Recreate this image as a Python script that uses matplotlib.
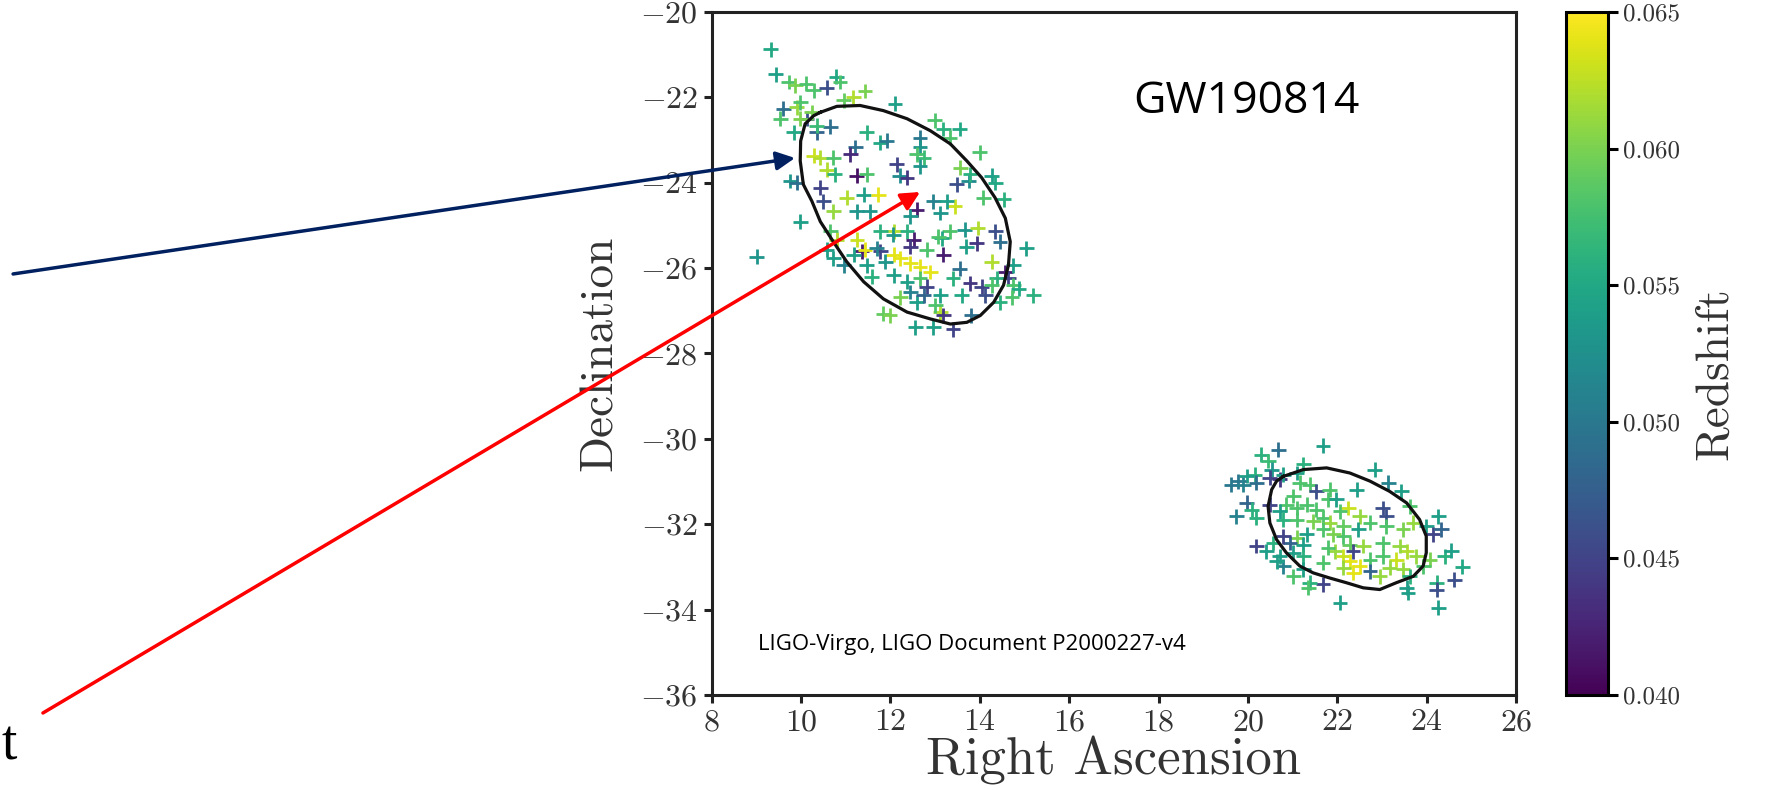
import matplotlib
matplotlib.use("Agg")
import matplotlib.pyplot as plt
from matplotlib.patches import FancyArrowPatch
from matplotlib.ticker import FormatStrFormatter
import numpy as np

plt.rcParams['font.family'] = 'serif'
plt.rcParams['font.serif'] = ['cmr10']
plt.rcParams['mathtext.fontset'] = 'cm'
plt.rcParams['axes.formatter.use_mathtext'] = True

# candidate host galaxies, northern lobe
ra_north = [9.32, 9.43, 9.72, 9.87, 10.11, 10.28, 10.57, 10.79, 10.87, 11.43,
            11.17, 10.95, 9.60, 9.90, 9.98, 9.53, 9.83, 10.13, 10.35, 10.65,
            10.35, 12.10, 11.47, 11.77, 11.92, 11.21, 11.10, 10.28, 10.43, 10.72,
            12.66, 12.66, 12.59, 12.74, 12.66, 12.99, 13.18, 13.55, 13.33, 12.14,
            12.21, 12.37, 10.57, 10.75, 11.24, 11.47, 9.75, 9.90, 10.43, 10.50,
            10.72, 11.02, 11.40, 11.73, 11.24, 11.54, 9.98, 9.01, 12.59, 13.11,
            13.44, 13.48, 13.75, 13.78, 14.00, 14.27, 14.34, 14.08, 14.53, 13.56,
            12.44, 12.07, 12.37, 12.52, 12.44, 13.33, 13.66, 13.95, 13.93, 13.70,
            13.15, 13.07, 14.34, 14.45, 15.04, 14.27, 13.18, 12.81, 11.25, 11.36,
            11.18, 11.43, 10.80, 10.65, 10.57, 10.72, 10.95, 11.77, 12.07, 12.22,
            12.44, 12.66, 12.89, 11.47, 11.58, 11.88, 12.37, 12.07, 12.66, 12.81,
            12.44, 12.22, 11.84, 11.99, 12.55, 12.96, 13.11, 13.18, 13.00, 13.40,
            13.81, 13.59, 13.78, 14.04, 14.12, 14.57, 14.64, 14.75, 14.87, 15.20,
            14.72, 14.38, 14.27, 14.75, 14.45, 13.55, 13.11, 13.40, 12.59, 12.74,
            11.69, 12.06, 11.77, 12.96, 13.26, 9.98, 10.24]
dec_north = [-20.87, -21.46, -21.64, -21.72, -21.68, -21.83, -21.77, -21.52, -21.64, -21.85,
             -21.99, -22.07, -22.27, -22.23, -22.11, -22.50, -22.82, -22.50, -22.82, -22.69,
             -22.66, -22.15, -22.82, -23.06, -23.02, -23.17, -23.33, -23.37, -23.41, -23.41,
             -22.94, -23.17, -23.33, -23.41, -23.61, -22.54, -22.74, -22.74, -22.94, -23.57,
             -23.84, -23.88, -23.69, -23.80, -23.84, -23.80, -23.96, -24.00, -24.12, -24.43,
             -24.67, -24.35, -24.28, -24.28, -24.67, -24.67, -24.91, -25.73, -24.63, -24.71,
             -24.55, -24.04, -23.96, -23.80, -23.29, -23.84, -24.00, -24.35, -24.39, -23.65,
             -24.79, -25.14, -25.14, -25.34, -25.50, -25.14, -25.10, -25.06, -25.42, -25.50,
             -25.30, -25.26, -25.14, -25.38, -25.54, -25.85, -25.69, -25.57, -25.34, -25.61,
             -25.69, -25.57, -25.34, -25.14, -25.57, -25.77, -25.93, -25.61, -25.69, -25.77,
             -25.89, -25.97, -26.09, -25.93, -26.20, -25.85, -26.32, -26.17, -26.24, -26.44,
             -26.56, -26.68, -27.07, -27.11, -27.39, -27.39, -27.03, -27.11, -26.87, -27.43,
             -27.11, -26.64, -26.36, -26.44, -26.64, -26.09, -26.24, -26.40, -26.48, -26.64,
             -26.68, -26.24, -26.40, -25.93, -26.80, -26.01, -26.64, -26.24, -26.80, -26.64,
             -25.54, -25.22, -25.14, -24.43, -24.43, -22.50, -22.35]
z_north = [0.055, 0.054, 0.058, 0.060, 0.058, 0.058, 0.046, 0.055, 0.058, 0.060,
           0.062, 0.059, 0.049, 0.061, 0.058, 0.058, 0.055, 0.046, 0.048, 0.049,
           0.057, 0.054, 0.056, 0.055, 0.050, 0.049, 0.043, 0.063, 0.062, 0.058,
           0.050, 0.053, 0.058, 0.057, 0.053, 0.058, 0.056, 0.055, 0.058, 0.045,
           0.052, 0.044, 0.062, 0.056, 0.041, 0.058, 0.053, 0.049, 0.045, 0.046,
           0.061, 0.062, 0.054, 0.064, 0.053, 0.053, 0.054, 0.053, 0.042, 0.053,
           0.063, 0.046, 0.052, 0.056, 0.058, 0.054, 0.055, 0.058, 0.056, 0.060,
           0.053, 0.062, 0.056, 0.042, 0.044, 0.058, 0.053, 0.062, 0.044, 0.054,
           0.055, 0.058, 0.046, 0.049, 0.054, 0.062, 0.042, 0.058, 0.063, 0.042,
           0.054, 0.064, 0.062, 0.058, 0.054, 0.054, 0.051, 0.045, 0.064, 0.064,
           0.064, 0.064, 0.064, 0.054, 0.056, 0.053, 0.054, 0.054, 0.058, 0.045,
           0.051, 0.060, 0.059, 0.060, 0.054, 0.054, 0.062, 0.044, 0.058, 0.045,
           0.049, 0.055, 0.044, 0.045, 0.046, 0.042, 0.045, 0.058, 0.055, 0.056,
           0.058, 0.056, 0.058, 0.054, 0.056, 0.049, 0.054, 0.056, 0.054, 0.048,
           0.051, 0.053, 0.056, 0.051, 0.054, 0.060, 0.060]

# candidate host galaxies, southern lobe
ra_south = [21.68, 20.68, 20.30, 20.45, 20.53, 20.15, 19.97, 19.78, 19.63, 19.89,
            20.19, 20.49, 20.71, 20.79, 21.09, 21.24, 21.16, 21.38, 21.53, 21.83,
            21.79, 22.43, 22.84, 23.14, 23.43, 23.62, 23.02, 23.10, 22.24, 22.06,
            21.31, 21.09, 20.86, 20.71, 20.49, 19.97, 20.08, 20.19, 19.74, 20.79,
            21.09, 21.46, 21.68, 21.83, 22.13, 22.50, 22.73, 23.10, 23.47, 23.70,
            23.99, 24.26, 24.14, 24.33, 24.40, 24.07, 23.77, 23.55, 23.40, 23.32,
            23.47, 23.17, 23.02, 22.73, 22.58, 22.28, 22.13, 21.91, 21.68, 21.31,
            21.09, 20.94, 21.24, 20.79, 20.56, 20.19, 20.41, 20.71, 21.01, 21.24,
            21.68, 21.94, 22.13, 22.35, 22.28, 22.50, 22.35, 22.13, 22.73, 22.95,
            23.62, 23.92, 24.22, 24.22, 23.55, 23.58, 22.06, 21.68, 21.38, 21.35,
            21.01, 21.24, 20.79, 20.64, 24.26, 21.79, 21.98, 22.47, 21.01, 21.53,
            23.02, 24.55, 24.80, 24.62]
dec_south = [-30.16, -30.25, -30.37, -30.52, -30.72, -30.84, -30.87, -30.99, -31.07, -31.07,
             -31.03, -30.91, -30.95, -30.84, -30.80, -30.60, -31.03, -31.07, -31.23, -31.19,
             -31.42, -31.19, -30.72, -31.03, -31.23, -31.58, -31.62, -31.81, -31.62, -31.70,
             -31.54, -31.62, -31.54, -31.70, -31.54, -31.50, -31.66, -31.85, -31.81, -31.89,
             -31.89, -31.93, -31.85, -31.97, -32.05, -31.81, -31.97, -32.05, -32.12, -31.97,
             -32.05, -31.81, -32.24, -32.12, -32.75, -32.83, -32.75, -32.63, -32.51, -32.83,
             -33.06, -33.02, -32.75, -32.83, -32.51, -32.48, -32.28, -32.24, -32.12, -32.24,
             -32.32, -32.44, -32.48, -32.28, -32.44, -32.51, -32.63, -32.75, -32.67, -32.75,
             -32.90, -32.63, -32.75, -32.63, -32.87, -32.98, -33.14, -33.02, -33.10, -33.22,
             -33.22, -32.98, -33.37, -33.53, -33.49, -33.61, -33.84, -33.41, -33.37, -33.49,
             -33.22, -33.06, -32.98, -32.87, -33.96, -32.55, -31.42, -32.12, -31.34, -31.66,
             -32.44, -32.62, -33.00, -33.30]
z_south = [0.054, 0.049, 0.056, 0.057, 0.053, 0.056, 0.054, 0.050, 0.050, 0.051,
           0.049, 0.045, 0.044, 0.054, 0.054, 0.056, 0.058, 0.058, 0.046, 0.058,
           0.058, 0.054, 0.054, 0.051, 0.054, 0.058, 0.046, 0.046, 0.063, 0.058,
           0.058, 0.058, 0.058, 0.054, 0.045, 0.048, 0.056, 0.056, 0.051, 0.056,
           0.058, 0.060, 0.058, 0.061, 0.059, 0.061, 0.058, 0.058, 0.060, 0.061,
           0.054, 0.054, 0.045, 0.048, 0.056, 0.060, 0.061, 0.062, 0.061, 0.063,
           0.061, 0.061, 0.058, 0.058, 0.061, 0.059, 0.058, 0.060, 0.058, 0.054,
           0.060, 0.048, 0.054, 0.045, 0.056, 0.045, 0.054, 0.054, 0.054, 0.056,
           0.058, 0.061, 0.063, 0.045, 0.064, 0.064, 0.064, 0.061, 0.048, 0.061,
           0.056, 0.058, 0.056, 0.046, 0.054, 0.054, 0.054, 0.045, 0.056, 0.058,
           0.058, 0.054, 0.051, 0.054, 0.054, 0.058, 0.054, 0.054, 0.058, 0.058,
           0.058, 0.054, 0.055, 0.046]

# 90% credible region outlines
ra_contour_north = [10.43, 10.80, 11.32, 11.84, 12.37, 12.89, 13.34, 13.71, 14.04, 14.34,
                    14.57, 14.68, 14.64, 14.53, 14.31, 14.01, 13.71, 13.34, 12.89, 12.37,
                    11.84, 11.40, 11.02, 10.72, 10.43, 10.24, 10.05, 9.98, 9.99, 10.09,
                    10.28, 10.43]
dec_contour_north = [-22.35, -22.21, -22.19, -22.31, -22.50, -22.78, -23.09, -23.49, -23.88, -24.35,
                     -24.83, -25.38, -25.93, -26.40, -26.80, -27.11, -27.27, -27.31, -27.19, -27.03,
                     -26.72, -26.32, -25.85, -25.38, -24.91, -24.43, -24.04, -23.49, -23.02, -22.62,
                     -22.43, -22.35]
ra_contour_south = [20.79, 21.24, 21.76, 22.28, 22.73, 23.17, 23.55, 23.84, 23.99, 23.99,
                    23.92, 23.70, 23.32, 22.95, 22.58, 22.20, 21.83, 21.46, 21.16, 20.86,
                    20.64, 20.49, 20.45, 20.53, 20.64, 20.79]
dec_contour_south = [-30.88, -30.72, -30.68, -30.80, -30.99, -31.23, -31.50, -31.89, -32.28, -32.67,
                     -32.98, -33.22, -33.37, -33.53, -33.49, -33.37, -33.26, -33.14, -32.98, -32.67,
                     -32.36, -31.97, -31.58, -31.19, -30.99, -30.88]

x_ticks = [8, 10, 12, 14, 16, 18, 20, 22, 24, 26]
y_ticks = [-36, -34, -32, -30, -28, -26, -24, -22, -20]
z_ticks = [0.040, 0.045, 0.050, 0.055, 0.060, 0.065]

label_col = '#333333'

fig = plt.figure(figsize=(17.67, 7.9), dpi=100)
ax = fig.add_axes([0.4028, 0.1203, 0.4552, 0.8645])
cax = fig.add_axes([0.8863, 0.1203, 0.0238, 0.8645])

ra = ra_north + ra_south
dec = dec_north + dec_south
z = z_north + z_south
sc = ax.scatter(ra, dec, c=z, cmap='viridis', vmin=0.040, vmax=0.065,
                marker='+', s=115, linewidths=2.0, zorder=2)
ax.plot(ra_contour_north, dec_contour_north, color='#111111', lw=2.3, zorder=3)
ax.plot(ra_contour_south, dec_contour_south, color='#111111', lw=2.3, zorder=3)

ax.set_xlim(8, 26)
ax.set_ylim(-36, -20)
ax.set_xticks(x_ticks)
ax.set_yticks(y_ticks)
for s in ax.spines.values():
    s.set_linewidth(2.2)
    s.set_color('#222222')
ax.tick_params(direction='out', length=6, width=2.2, color='#222222',
               labelsize=23, labelcolor=label_col, pad=4)
ax.set_xlabel('Right Ascension', fontsize=38, color=label_col, labelpad=0)
ax.set_ylabel('Declination', fontsize=34, color=label_col, labelpad=14)

ax.text(0.524, 0.852, 'GW190814', transform=ax.transAxes, fontsize=32,
        family='Open Sans', color='black', va='baseline', ha='left')
ax.text(0.0576, 0.066, 'LIGO-Virgo, LIGO Document P2000227-v4', transform=ax.transAxes,
        fontsize=16, family='Open Sans', color='black', va='baseline', ha='left')

cb = fig.colorbar(sc, cax=cax, ticks=z_ticks)
cb.outline.set_linewidth(2.2)
cb.ax.yaxis.set_major_formatter(FormatStrFormatter('%.3f'))
cb.ax.tick_params(direction='out', length=7, width=2.2, labelsize=18,
                  labelcolor=label_col, pad=4)
cb.set_label('Redshift', fontsize=34, color=label_col)
cb.ax.yaxis.set_label_coords(3.05, 0.47)

# pointer arrows drawn across the figure
blue_arrow = FancyArrowPatch((0.0074, 0.6532), (0.4499, 0.8000),
                             transform=fig.transFigure, arrowstyle='-|>',
                             mutation_scale=28, lw=2.5, color='#002060',
                             shrinkA=0, shrinkB=0)
red_arrow = FancyArrowPatch((0.0243, 0.0975), (0.5207, 0.7570),
                            transform=fig.transFigure, arrowstyle='-|>',
                            mutation_scale=28, lw=2.5, color='#ff0000',
                            shrinkA=0, shrinkB=0)
fig.add_artist(blue_arrow)
fig.add_artist(red_arrow)

fig.text(0.001, 0.038, 't', fontsize=40, family='Liberation Serif',
         color='black', va='baseline', ha='left')

fig.savefig('out.png', dpi=100)
plt.close(fig)
